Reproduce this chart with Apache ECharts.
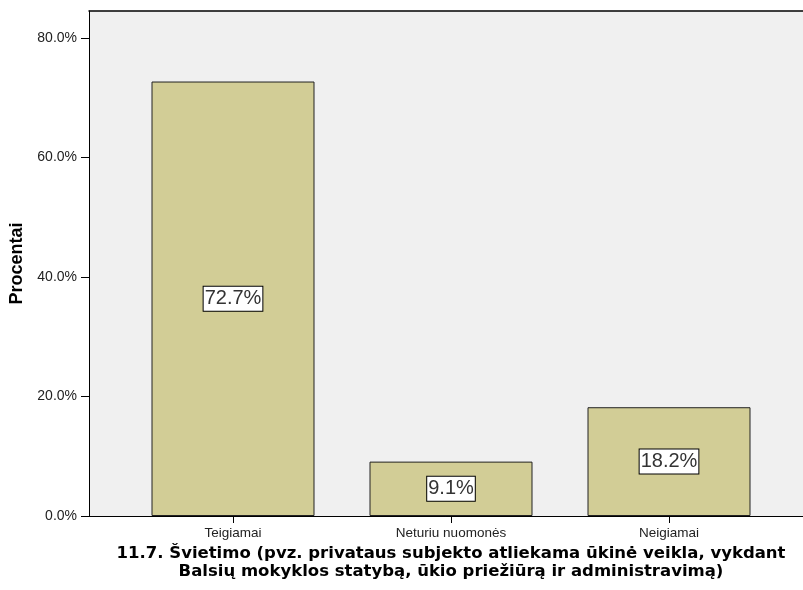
<!DOCTYPE html>
<html>
<head>
<meta charset="utf-8">
<script src="https://cdn.jsdelivr.net/npm/echarts@6/dist/echarts.min.js"></script>
<style>html,body{margin:0;padding:0;background:#fff;}#c{width:803px;height:590px;}</style>
</head>
<body>
<div id="c"></div>
<script>
var categories = ['Teigiamai', 'Neturiu nuomonės', 'Neigiamai'];
var values = [72.7, 9.1, 18.2];
var yTicks = [0, 20, 40, 60, 80];
var xTitle = '11.7. Švietimo (pvz. privataus subjekto atliekama ūkinė veikla, vykdant\nBalsių mokyklos statybą, ūkio priežiūrą ir administravimą)';
var yTitle = 'Procentai';

var chart = echarts.init(document.getElementById('c'));
var YMAX = 84.5;
chart.setOption({
  animation: false,
  grid: [
    {left: 89, right: 0, top: 11, bottom: 74, show: true, backgroundColor: '#f0f0f0', borderWidth: 0},
    {left: 124, right: 25, top: 11, bottom: 74}
  ],
  xAxis: [
    {gridIndex: 0, type: 'value', min: 0, max: 1, position: 'bottom',
     axisLine: {show: true, lineStyle: {color: '#000', width: 1}},
     axisTick: {show: false}, axisLabel: {show: false}, splitLine: {show: false}},
    {gridIndex: 1, type: 'category', data: categories,
     axisLine: {show: false},
     axisTick: {show: true, alignWithLabel: true, length: 7, lineStyle: {color: '#000'}},
     axisLabel: {color: '#222', fontSize: 13.5, fontFamily: 'Liberation Sans', margin: 10},
     name: xTitle, nameLocation: 'middle', nameGap: 24,
     nameTextStyle: {fontFamily: 'DejaVu Sans', fontWeight: 'bold', fontSize: 16.5, color: '#000', lineHeight: 18}
    },
    {gridIndex: 0, type: 'value', min: 0, max: 1, position: 'top',
     axisLine: {show: true, lineStyle: {color: '#000', width: 1.5}},
     axisTick: {show: false}, axisLabel: {show: false}, splitLine: {show: false}}
  ],
  yAxis: [
    {gridIndex: 0, type: 'value', min: 0, max: YMAX,
     axisLine: {show: true, lineStyle: {color: '#000', width: 1}},
     axisTick: {show: true, length: 8, customValues: yTicks, lineStyle: {color: '#000'}},
     splitLine: {show: false},
     axisLabel: {color: '#222', fontSize: 14, fontFamily: 'Liberation Sans', margin: 12, customValues: yTicks,
       formatter: function (v) { return v.toFixed(1) + '%'; }},
     name: yTitle, nameLocation: 'middle', nameGap: 61, nameRotate: 90,
     nameTextStyle: {fontFamily: 'Liberation Sans', fontWeight: 'bold', fontSize: 18, color: '#000'}
    },
    {gridIndex: 1, type: 'value', min: 0, max: YMAX, show: false}
  ],
  series: [{
    type: 'bar', xAxisIndex: 1, yAxisIndex: 1, data: values, barWidth: 163,
    itemStyle: {color: '#d2cd96', borderColor: '#222', borderWidth: 1},
    label: {show: true, position: 'inside', formatter: function (p) { return p.value.toFixed(1) + '%'; },
      fontFamily: 'Liberation Sans', fontSize: 20, color: '#333', backgroundColor: '#fff',
      borderColor: '#000', borderWidth: 1, padding: [3, 1, 1, 1]}
  }]
});
</script>
</body>
</html>
